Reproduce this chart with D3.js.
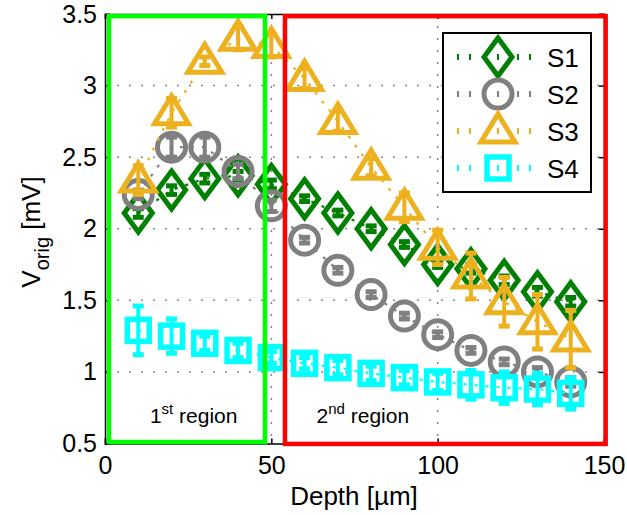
<!DOCTYPE html>
<html>
<head>
<meta charset="utf-8">
<script src="https://cdn.jsdelivr.net/npm/d3@7"></script>
<style>
body { margin: 0; background: #fff; }
text { font-family: "Liberation Sans", Arial, sans-serif; fill: #000; }
</style>
</head>
<body>
<svg id="chart"></svg>
<script>
var w = 627;
var h = 515;

// depth in µm
var depth = [10, 20, 30, 40, 50, 60, 70, 80, 90, 100, 110, 120, 130, 140];
var s1 = [2.11, 2.27, 2.35, 2.37, 2.31, 2.21, 2.11, 2.00, 1.89, 1.75, 1.72, 1.64, 1.56, 1.49];
var s1_err = [0.03, 0.03, 0.03, 0.03, 0.03, 0.02, 0.02, 0.02, 0.02, 0.02, 0.03, 0.03, 0.03, 0.03];
var s2 = [2.24, 2.57, 2.57, 2.40, 2.16, 1.92, 1.71, 1.54, 1.39, 1.26, 1.15, 1.07, 1.00, 0.93];
var s2_err = [0.03, 0.07, 0.07, 0.05, 0.04, 0.02, 0.02, 0.02, 0.02, 0.02, 0.02, 0.02, 0.03, 0.03];
var s3 = [2.34, 2.81, 3.17, 3.33, 3.28, 3.05, 2.75, 2.43, 2.15, 1.87, 1.67, 1.49, 1.35, 1.23];
var s3_err = [0.10, 0.10, 0.03, 0.08, 0.08, 0.07, 0.07, 0.06, 0.10, 0.12, 0.16, 0.17, 0.19, 0.20];
var s4 = [1.29, 1.25, 1.20, 1.15, 1.10, 1.06, 1.03, 0.99, 0.96, 0.93, 0.91, 0.89, 0.88, 0.85];
var s4_err = [0.17, 0.12, 0.05, 0.05, 0.04, 0.04, 0.05, 0.05, 0.05, 0.06, 0.10, 0.11, 0.11, 0.11];

var series_names = ['S1', 'S2', 'S3', 'S4'];
var x_ticks = [0, 50, 100, 150];
var y_ticks = [0.5, 1, 1.5, 2, 2.5, 3, 3.5];

// region boxes [x0, x1, y0, y1] in data units
var region1 = [1.2, 48.1, 0.51, 3.485];
var region2 = [54.1, 150.5, 0.497, 3.485];
var region_labels = [["1", "st", " region", 13.5], ["2", "nd", " region", 63.6]];

var colors = ['#008000', '#808080', '#EDB120', '#00FFFF'];
var all_series = [[s1, s1_err], [s2, s2_err], [s3, s3_err], [s4, s4_err]];

var ax_l = 105, ax_r = 604, ax_t = 14, ax_b = 443.5;
var x = d3.scaleLinear().domain([0, 150]).range([ax_l, ax_r]);
var y = d3.scaleLinear().domain([0.5, 3.5]).range([ax_b, ax_t]);

var svg = d3.select("#chart").attr("width", w).attr("height", h);

// grid
svg.append("g").selectAll("line").data(x_ticks.slice(1, -1)).enter().append("line")
   .attr("x1", d => x(d)).attr("x2", d => x(d)).attr("y1", ax_t).attr("y2", ax_b)
   .style("stroke", "#888").style("stroke-width", 1.5).style("stroke-dasharray", "2,10");
svg.append("g").selectAll("line").data(y_ticks.slice(1, -1)).enter().append("line")
   .attr("x1", ax_l).attr("x2", ax_r).attr("y1", d => y(d)).attr("y2", d => y(d))
   .style("stroke", "#888").style("stroke-width", 1.5).style("stroke-dasharray", "2,10");

// axes (box with inward ticks)
var xAxis = d3.axisBottom(x).tickValues(x_ticks).tickSize(-5).tickPadding(13).tickFormat(d3.format("d"));
var yAxis = d3.axisLeft(y).tickValues(y_ticks).tickSize(-5).tickPadding(8).tickFormat(d => d);
svg.append("g").attr("transform", "translate(0," + ax_b + ")").call(xAxis);
svg.append("g").attr("transform", "translate(" + ax_l + ",0)").call(yAxis);
svg.append("g").attr("transform", "translate(0," + ax_t + ")")
   .call(d3.axisTop(x).tickValues(x_ticks).tickSize(-5).tickFormat(""));
svg.append("g").attr("transform", "translate(" + ax_r + ",0)")
   .call(d3.axisRight(y).tickValues(y_ticks).tickSize(-5).tickFormat(""));
svg.selectAll(".domain").style("stroke", "#000").style("stroke-width", 1.5);
svg.selectAll(".tick line").style("stroke", "#000").style("stroke-width", 1.5);
svg.selectAll(".tick text").style("font-size", "25px").style("font-family", "Liberation Sans, Arial, sans-serif");

// markers
function drawMarker(g, k) {
    if (k == 0) {
        g.append("path").attr("d", "M0,-19L14,0L0,19L-14,0Z")
         .style("fill", "none").style("stroke", colors[k]).style("stroke-width", 5);
    } else if (k == 1) {
        g.append("circle").attr("r", 14)
         .style("fill", "none").style("stroke", colors[k]).style("stroke-width", 5);
    } else if (k == 2) {
        g.append("path").attr("d", "M0,-17L17,11L-17,11Z")
         .style("fill", "none").style("stroke", colors[k]).style("stroke-width", 5);
    } else {
        g.append("rect").attr("x", -11).attr("y", -11).attr("width", 22).attr("height", 22)
         .style("fill", "none").style("stroke", colors[k]).style("stroke-width", 5.5);
    }
}

var line = d3.line().x(d => x(d[0])).y(d => y(d[1]));

all_series.forEach(function(s, k) {
    var vals = s[0], errs = s[1];
    var pts = depth.map((d, i) => [d, vals[i], errs[i]]);
    var g = svg.append("g");
    g.append("path").datum(pts).attr("d", line)
     .style("fill", "none").style("stroke", colors[k]).style("stroke-width", 2.2)
     .style("stroke-dasharray", "3,8");
    // error bars
    pts.forEach(function(p) {
        var y0 = y(p[1] - p[2]), y1 = y(p[1] + p[2]), cx = x(p[0]);
        g.append("line").attr("x1", cx).attr("x2", cx).attr("y1", y0).attr("y2", y1)
         .style("stroke", colors[k]).style("stroke-width", 4);
        [y0, y1].forEach(function(yy) {
            g.append("line").attr("x1", cx - 5.5).attr("x2", cx + 5.5).attr("y1", yy).attr("y2", yy)
             .style("stroke", colors[k]).style("stroke-width", 5);
        });
        drawMarker(g.append("g").attr("transform", "translate(" + cx + "," + y(p[1]) + ")"), k);
    });
});

// regions
[[region1, "#00FF00"], [region2, "#FF0000"]].forEach(function(r) {
    var b = r[0];
    svg.append("rect")
       .attr("x", x(b[0])).attr("y", y(b[3]))
       .attr("width", x(b[1]) - x(b[0])).attr("height", y(b[2]) - y(b[3]))
       .style("fill", "none").style("stroke", r[1]).style("stroke-width", 4.5);
});

region_labels.forEach(function(l) {
    var t = svg.append("text").attr("x", x(l[3])).attr("y", 423).style("font-size", "21px");
    t.append("tspan").text(l[0]);
    t.append("tspan").attr("dy", -9).style("font-size", "15px").text(l[1]);
    t.append("tspan").attr("dy", 9).text(l[2]);
});

// legend
var lg = svg.append("g").attr("transform", "translate(443,33)");
lg.append("rect").attr("width", 148).attr("height", 159)
  .style("fill", "#fff").style("stroke", "#000").style("stroke-width", 2);
series_names.forEach(function(name, k) {
    var cy = 24 + k * 37;
    var row = lg.append("g").attr("transform", "translate(0," + cy + ")");
    [[14, 30], [74, 90]].forEach(function(seg) {
        row.append("line").attr("x1", seg[0]).attr("x2", seg[1]).attr("y1", 0).attr("y2", 0)
           .style("stroke", colors[k]).style("stroke-width", 6).style("stroke-dasharray", "2,10");
    });
    row.append("line").attr("x1", 55).attr("x2", 55).attr("y1", -3).attr("y2", 3)
       .style("stroke", colors[k]).style("stroke-width", 2);
    drawMarker(row.append("g").attr("transform", "translate(55,0)"), k);
    row.append("text").attr("x", 104).attr("y", 10).style("font-size", "26px").text(name);
});

// axis labels
svg.append("text").attr("x", 354).attr("y", 505).attr("text-anchor", "middle")
   .style("font-size", "26px").text("Depth [µm]");
var yl = svg.append("text").attr("transform", "translate(40,232) rotate(-90)")
   .attr("text-anchor", "middle").style("font-size", "26px");
yl.append("tspan").text("V");
yl.append("tspan").attr("dy", 9).style("font-size", "20px").text("orig");
yl.append("tspan").attr("dy", -9).text(" [mV]");
</script>
</body>
</html>
